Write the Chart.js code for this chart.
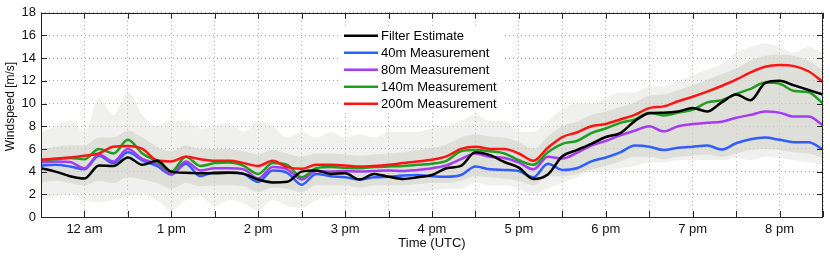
<!DOCTYPE html>
<html>
<head>
<meta charset="utf-8">
<script src="https://cdn.jsdelivr.net/npm/chart.js@4.4.0/dist/chart.umd.min.js"></script>
<style>
  html, body { margin: 0; padding: 0; background: #fff; }
  #wrap { width: 830px; height: 256px; }
</style>
</head>
<body>
<div id="wrap"><canvas id="windChart" width="830" height="256"></canvas></div>
<script>
// sample times (UTC), 10 minute steps
const times = [
  "11:30", "11:40", "11:50", "12:00", "12:10", "12:20", "12:30", "12:40", "12:50", "13:00",
  "13:10", "13:20", "13:30", "13:40", "13:50", "14:00", "14:10", "14:20", "14:30", "14:40",
  "14:50", "15:00", "15:10", "15:20", "15:30", "15:40", "15:50", "16:00", "16:10", "16:20",
  "16:30", "16:40", "16:50", "17:00", "17:10", "17:20", "17:30", "17:40", "17:50", "18:00",
  "18:10", "18:20", "18:30", "18:40", "18:50", "19:00", "19:10", "19:20", "19:30", "19:40",
  "19:50", "20:00", "20:10", "20:20", "20:30"
];

// hour tick labels (as printed on the original)
const tickHours = [12, 13, 14, 15, 16, 17, 18, 19, 20];
const tickLabels = ["12 am", "1 pm", "2 pm", "3 pm", "4 pm", "5 pm", "6 pm", "7 pm", "8 pm"];

const seriesNames = ["Filter Estimate", "40m Measurement", "80m Measurement", "140m Measurement", "200m Measurement"];

const filterEstimate = [
  4.3, 4.0, 3.6, 3.4, 4.55, 4.5, 5.25, 4.6, 4.95, 4.0,
  3.9, 3.85, 3.85, 3.9, 3.8, 3.3, 3.05, 3.1, 4.0, 4.1,
  3.8, 3.85, 3.3, 3.8, 3.55, 3.35, 3.5, 3.7, 4.3, 4.5,
  5.7, 5.45, 4.85, 4.35, 3.35, 3.75, 5.35, 5.9, 6.45, 7.05,
  7.4, 8.45, 9.15, 9.2, 9.3, 9.6, 9.3, 10.1, 10.8, 10.3,
  11.8, 12.0, 11.6, 11.2, 10.8
];
const meas40 = [
  4.55, 4.6, 4.45, 4.2, 5.4, 4.75, 5.7, 5.0, 4.5, 3.75,
  4.7, 3.6, 3.95, 3.95, 3.8, 3.1, 4.1, 3.9, 2.85, 3.8,
  3.6, 3.5, 3.3, 3.5, 3.55, 3.65, 3.7, 3.6, 3.55, 3.7,
  4.45, 4.2, 4.15, 4.05, 3.5, 4.7, 4.15, 4.3, 4.9, 5.25,
  5.7, 6.3, 6.2, 5.9, 6.1, 6.2, 6.3, 5.95, 6.5, 6.85,
  7.0, 6.8, 6.6, 6.6, 5.95
];
const meas80 = [
  4.8, 4.9, 4.85, 4.3, 5.5, 4.9, 6.0, 5.1, 4.7, 3.8,
  4.9, 4.1, 4.3, 4.3, 4.2, 3.4, 4.4, 4.2, 3.3, 4.05,
  4.0, 4.05, 4.0, 4.05, 4.1, 4.05, 4.15, 4.3, 4.55, 5.1,
  5.6, 5.3, 5.2, 4.8, 4.2, 5.3, 5.15, 5.65, 6.3, 6.7,
  7.2, 7.6, 8.0, 7.55, 8.0, 8.2, 8.3, 8.4, 8.75, 9.0,
  9.3, 9.2, 8.85, 8.85, 8.1
];
const meas140 = [
  5.0, 5.1, 5.2, 5.1, 6.0, 5.6, 6.8, 5.6, 4.9, 4.0,
  5.3, 4.5, 4.75, 4.8, 4.5, 3.8, 4.75, 4.6, 3.5, 4.3,
  4.4, 4.35, 4.3, 4.4, 4.45, 4.5, 4.6, 4.7, 4.95, 5.8,
  5.9, 5.8, 5.6, 5.0, 4.6, 5.7, 6.45, 6.7, 7.4, 7.8,
  8.3, 8.6, 9.2, 8.95, 9.2, 9.45, 10.1, 10.3, 10.85, 11.3,
  11.85, 11.75, 11.1, 11.0, 10.0
];
const meas200 = [
  5.05, 5.15, 5.25, 5.4, 5.6, 6.2, 6.25, 6.0, 5.0, 4.9,
  5.3, 5.1, 4.95, 4.95, 4.75, 4.5, 4.95, 4.4, 4.25, 4.6,
  4.6, 4.55, 4.45, 4.5, 4.6, 4.75, 4.9, 5.05, 5.35, 6.0,
  6.2, 6.0, 6.0, 5.6, 4.95, 6.1, 7.05, 7.45, 8.0, 8.2,
  8.6, 9.0, 9.6, 9.75, 10.2, 10.6, 11.05, 11.55, 12.1, 12.75,
  13.25, 13.4, 13.3, 12.85, 11.9
];

// spread of the raw (unfiltered) readings
const rawOuterLow = [
  1.5, 1.8, 2.0, 1.5, 1.3, 1.5, 1.8, 2.0, 1.5, 0.6,
  1.5, 1.8, 1.0, 1.5, 1.2, 0.6, 1.5, 1.0, 0.8, 1.5,
  1.8, 2.0, 1.8, 2.0, 2.2, 2.0, 2.2, 2.3, 2.5, 2.5,
  3.0, 2.8, 2.8, 2.5, 2.0, 2.5, 3.0, 3.5, 4.0, 4.0,
  4.3, 4.5, 4.8, 4.8, 5.0, 5.0, 5.0, 5.0, 5.2, 5.0,
  5.3, 5.2, 5.0, 4.8, 4.6
];
const rawOuterHigh = [
  7.5, 8.0, 8.5, 7.5, 10.5, 9.0, 11.0, 9.0, 8.0, 8.5,
  8.5, 7.8, 8.0, 8.3, 7.5, 8.5, 8.0, 7.0, 7.5, 7.0,
  7.5, 7.0, 7.3, 7.0, 7.5, 7.5, 7.5, 7.8, 8.0, 8.5,
  9.0, 8.5, 8.5, 7.5, 7.5, 8.5, 9.5, 10.0, 10.0, 10.5,
  11.0, 11.0, 11.5, 11.5, 12.0, 12.5, 13.0, 13.5, 14.5, 15.0,
  15.3, 15.0, 14.5, 15.0, 14.5
];
const rawInnerLow = [
  3.0, 3.2, 3.0, 2.8, 3.2, 3.0, 3.5, 3.3, 3.0, 2.5,
  3.0, 2.7, 2.8, 2.8, 2.7, 2.2, 2.6, 2.5, 2.2, 2.8,
  2.8, 2.8, 2.6, 2.8, 2.8, 2.8, 2.9, 3.0, 3.0, 3.2,
  3.6, 3.5, 3.4, 3.2, 2.8, 3.6, 3.6, 3.8, 4.2, 4.5,
  4.9, 5.3, 5.3, 5.1, 5.3, 5.4, 5.5, 5.3, 5.6, 5.9,
  6.0, 5.9, 5.7, 5.6, 5.2
];
const rawInnerHigh = [
  6.0, 6.2, 6.3, 6.3, 7.0, 7.0, 7.6, 7.0, 6.2, 5.8,
  6.3, 6.0, 6.0, 6.0, 5.8, 5.5, 5.9, 5.6, 5.3, 5.6,
  5.6, 5.5, 5.4, 5.5, 5.6, 5.7, 5.9, 6.1, 6.4, 7.0,
  7.3, 7.1, 7.0, 6.6, 6.0, 7.1, 8.0, 8.4, 9.0, 9.3,
  9.7, 10.1, 10.7, 10.8, 11.2, 11.6, 12.1, 12.6, 13.1, 13.8,
  14.2, 14.3, 14.2, 13.8, 12.9
];

const FONT = "'Liberation Sans', Arial, Helvetica, sans-serif";
Chart.defaults.font.family = FONT;
Chart.defaults.font.size = 13;
Chart.defaults.color = "#111";

function toHours(t) {
  const parts = t.split(":");
  return Number(parts[0]) + Number(parts[1]) / 60;
}

function pts(values) {
  return values.map((v, i) => ({ x: toHours(times[i]), y: v }));
}

function band(values, color, fill) {
  return {
    data: pts(values),
    borderWidth: 0,
    pointRadius: 0,
    backgroundColor: color,
    fill: fill,
    cubicInterpolationMode: "monotone",
    order: 10,
  };
}

function line(label, values, color, order) {
  return {
    label: label,
    data: pts(values),
    borderColor: color,
    backgroundColor: color,
    borderWidth: 2.5,
    pointRadius: 0,
    fill: false,
    cubicInterpolationMode: "monotone",
    order: order,
  };
}

// legend drawn inside the plot, white backing, no frame
const innerLegend = {
  id: "innerLegend",
  afterDatasetsDraw(chart) {
    const { ctx, chartArea } = chart;
    const left = chartArea.left + 299;
    const top = chartArea.top + 14;
    ctx.save();
    ctx.fillStyle = "#fff";
    ctx.fillRect(left, top, 165, 86);
    ctx.font = "13px " + FONT;
    ctx.textBaseline = "middle";
    ctx.fillStyle = "#000";
    const lines = chart.data.datasets.filter((d) => d.label);
    seriesNames.forEach((name, i) => {
      const ds = lines.find((d) => d.label === name);
      const yy = top + 9 + i * 17;
      ctx.strokeStyle = ds.borderColor;
      ctx.lineWidth = 2.5;
      ctx.beginPath();
      ctx.moveTo(left + 4, yy);
      ctx.lineTo(left + 38, yy);
      ctx.stroke();
      ctx.fillText(name, left + 41, yy + 0.5);
    });
    ctx.restore();
  },
};

// box around plot plus inward tick marks on all sides, and the y title
const frameTicks = {
  id: "frameTicks",
  afterDraw(chart) {
    const { ctx, chartArea: a, scales } = chart;
    const x = scales.x, y = scales.y;
    ctx.save();
    ctx.strokeStyle = "#262626";
    ctx.lineWidth = 1;
    ctx.beginPath();
    x.ticks.forEach((t) => {
      const px = Math.round(x.getPixelForValue(t.value)) + 0.5;
      ctx.moveTo(px, a.bottom);
      ctx.lineTo(px, a.bottom - 6);
      ctx.moveTo(px, a.top);
      ctx.lineTo(px, a.top + 6);
    });
    y.ticks.forEach((t) => {
      const py = Math.round(y.getPixelForValue(t.value)) + 0.5;
      ctx.moveTo(a.left, py);
      ctx.lineTo(a.left + 6, py);
      ctx.moveTo(a.right, py);
      ctx.lineTo(a.right - 6, py);
    });
    ctx.stroke();
    ctx.strokeRect(Math.round(a.left) + 0.5, Math.round(a.top) + 0.5,
      Math.round(a.right - a.left) - 1, Math.round(a.bottom - a.top));

    ctx.translate(10.5, 106.5);
    ctx.rotate(-Math.PI / 2);
    ctx.font = "12px " + FONT;
    ctx.fillStyle = "#111";
    ctx.textAlign = "center";
    ctx.textBaseline = "middle";
    ctx.fillText("Windspeed [m/s]", 0, 0);
    ctx.restore();
  },
};

const ctx = document.getElementById("windChart").getContext("2d");
const windChart = new Chart(ctx, {
  type: "line",
  data: {
    datasets: [
      band(rawOuterLow, "rgba(0,0,0,0)", false),
      band(rawOuterHigh, "rgba(212,216,206,0.35)", "-1"),
      band(rawInnerLow, "rgba(0,0,0,0)", false),
      band(rawInnerHigh, "rgba(205,209,199,0.6)", "-1"),
      line(seriesNames[0], filterEstimate, "#000000", 1),
      line(seriesNames[1], meas40, "#2f5dff", 5),
      line(seriesNames[2], meas80, "#a53cf5", 4),
      line(seriesNames[3], meas140, "#1f9e1f", 3),
      line(seriesNames[4], meas200, "#ff1414", 2),
    ],
  },
  options: {
    responsive: false,
    animation: false,
    devicePixelRatio: 1,
    layout: { padding: { top: 7, right: 7, left: 0, bottom: 0 } },
    plugins: {
      legend: { display: false },
      tooltip: { enabled: false },
    },
    scales: {
      x: {
        type: "linear",
        min: 11.5,
        max: 20.5,
        afterFit: (scale) => { scale.height = 39; },
        ticks: {
          stepSize: 0.5,
          autoSkip: false,
          maxRotation: 0,
          padding: 5,
          color: "#111",
          callback: (value) => {
            const k = tickHours.indexOf(value);
            return k >= 0 ? tickLabels[k] : "";
          },
        },
        grid: { color: "#a8a8a8", drawTicks: false },
        border: { display: false, dash: [1, 3] },
        title: { display: true, text: "Time (UTC)", color: "#111", padding: { top: 0, bottom: 5 } },
      },
      y: {
        min: 0,
        max: 18,
        afterFit: (scale) => { scale.width = 41; },
        ticks: { stepSize: 2, padding: 5, color: "#111" },
        grid: { color: "#a8a8a8", drawTicks: false },
        border: { display: false, dash: [1, 3] },
      },
    },
  },
  plugins: [innerLegend, frameTicks],
});
</script>
</body>
</html>
